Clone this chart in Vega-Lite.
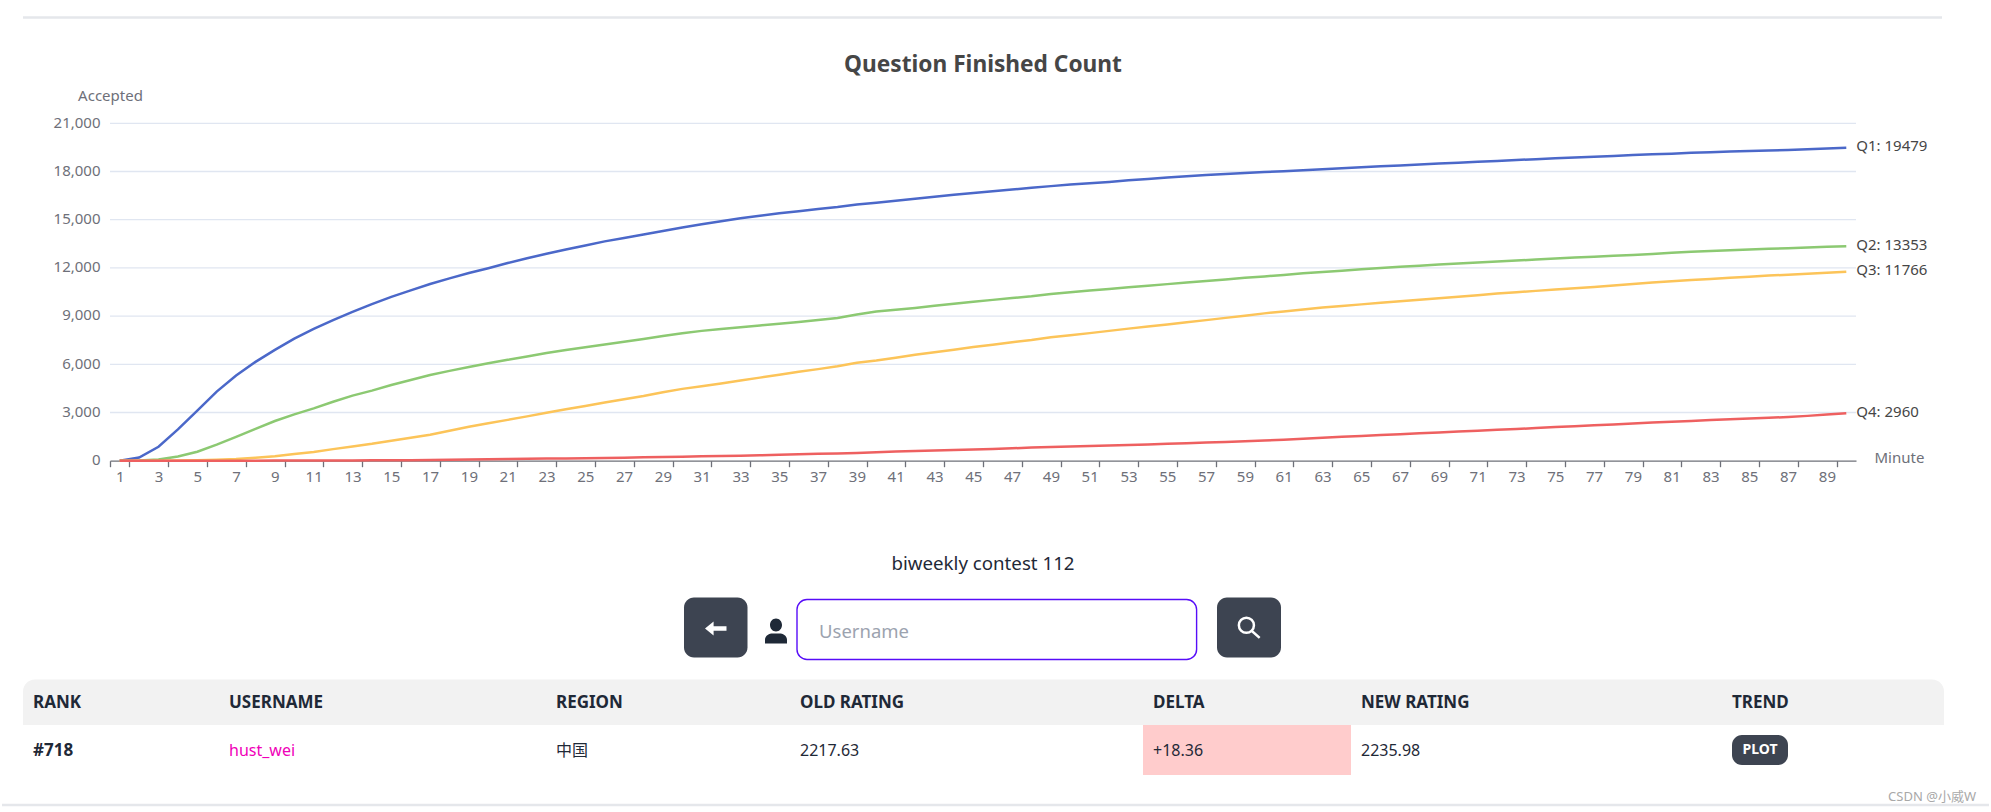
{
"$schema":"https://vega.github.io/schema/vega-lite/v6.json",
"width":1991,"height":812,"padding":0,
"autosize":{"type":"fit","contains":"padding"},
"background":"#ffffff",
"title":{"text":"Question Finished Count","anchor":"middle","frame":"group","offset":-77,"dx":-12.5,"fontSize":22.7,"fontWeight":"bold","font":"Noto Sans","color":"#464646"},
"config":{"font":"Noto Sans","view":{"stroke":null}},
"datasets":{
"series":[
{"minute":1,"question":"Q1","accepted":0},{"minute":2,"question":"Q1","accepted":200},{"minute":3,"question":"Q1","accepted":870},{"minute":4,"question":"Q1","accepted":1950},{"minute":5,"question":"Q1","accepted":3120},{"minute":6,"question":"Q1","accepted":4300},{"minute":7,"question":"Q1","accepted":5300},{"minute":8,"question":"Q1","accepted":6150},{"minute":9,"question":"Q1","accepted":6900},{"minute":10,"question":"Q1","accepted":7600},{"minute":11,"question":"Q1","accepted":8200},{"minute":12,"question":"Q1","accepted":8750},{"minute":13,"question":"Q1","accepted":9260},{"minute":14,"question":"Q1","accepted":9750},{"minute":15,"question":"Q1","accepted":10200},{"minute":16,"question":"Q1","accepted":10600},{"minute":17,"question":"Q1","accepted":11000},{"minute":18,"question":"Q1","accepted":11350},{"minute":19,"question":"Q1","accepted":11680},{"minute":20,"question":"Q1","accepted":11980},{"minute":21,"question":"Q1","accepted":12300},{"minute":22,"question":"Q1","accepted":12600},{"minute":23,"question":"Q1","accepted":12880},{"minute":24,"question":"Q1","accepted":13150},{"minute":25,"question":"Q1","accepted":13400},{"minute":26,"question":"Q1","accepted":13650},{"minute":27,"question":"Q1","accepted":13860},{"minute":28,"question":"Q1","accepted":14080},{"minute":29,"question":"Q1","accepted":14300},{"minute":30,"question":"Q1","accepted":14520},{"minute":31,"question":"Q1","accepted":14720},{"minute":32,"question":"Q1","accepted":14910},{"minute":33,"question":"Q1","accepted":15090},{"minute":34,"question":"Q1","accepted":15250},{"minute":35,"question":"Q1","accepted":15400},{"minute":36,"question":"Q1","accepted":15530},{"minute":37,"question":"Q1","accepted":15660},{"minute":38,"question":"Q1","accepted":15790},{"minute":39,"question":"Q1","accepted":15950},{"minute":40,"question":"Q1","accepted":16060},{"minute":41,"question":"Q1","accepted":16180},{"minute":42,"question":"Q1","accepted":16310},{"minute":43,"question":"Q1","accepted":16430},{"minute":44,"question":"Q1","accepted":16550},{"minute":45,"question":"Q1","accepted":16660},{"minute":46,"question":"Q1","accepted":16770},{"minute":47,"question":"Q1","accepted":16880},{"minute":48,"question":"Q1","accepted":16990},{"minute":49,"question":"Q1","accepted":17090},{"minute":50,"question":"Q1","accepted":17190},{"minute":51,"question":"Q1","accepted":17270},{"minute":52,"question":"Q1","accepted":17350},{"minute":53,"question":"Q1","accepted":17450},{"minute":54,"question":"Q1","accepted":17540},{"minute":55,"question":"Q1","accepted":17620},{"minute":56,"question":"Q1","accepted":17700},{"minute":57,"question":"Q1","accepted":17780},{"minute":58,"question":"Q1","accepted":17850},{"minute":59,"question":"Q1","accepted":17910},{"minute":60,"question":"Q1","accepted":17970},{"minute":61,"question":"Q1","accepted":18020},{"minute":62,"question":"Q1","accepted":18080},{"minute":63,"question":"Q1","accepted":18140},{"minute":64,"question":"Q1","accepted":18200},{"minute":65,"question":"Q1","accepted":18260},{"minute":66,"question":"Q1","accepted":18320},{"minute":67,"question":"Q1","accepted":18380},{"minute":68,"question":"Q1","accepted":18440},{"minute":69,"question":"Q1","accepted":18500},{"minute":70,"question":"Q1","accepted":18550},{"minute":71,"question":"Q1","accepted":18600},{"minute":72,"question":"Q1","accepted":18660},{"minute":73,"question":"Q1","accepted":18710},{"minute":74,"question":"Q1","accepted":18770},{"minute":75,"question":"Q1","accepted":18820},{"minute":76,"question":"Q1","accepted":18870},{"minute":77,"question":"Q1","accepted":18920},{"minute":78,"question":"Q1","accepted":18970},{"minute":79,"question":"Q1","accepted":19020},{"minute":80,"question":"Q1","accepted":19070},{"minute":81,"question":"Q1","accepted":19110},{"minute":82,"question":"Q1","accepted":19160},{"minute":83,"question":"Q1","accepted":19200},{"minute":84,"question":"Q1","accepted":19240},{"minute":85,"question":"Q1","accepted":19270},{"minute":86,"question":"Q1","accepted":19300},{"minute":87,"question":"Q1","accepted":19340},{"minute":88,"question":"Q1","accepted":19380},{"minute":89,"question":"Q1","accepted":19430},{"minute":90,"question":"Q1","accepted":19479},
{"minute":1,"question":"Q2","accepted":0},{"minute":2,"question":"Q2","accepted":15},{"minute":3,"question":"Q2","accepted":80},{"minute":4,"question":"Q2","accepted":260},{"minute":5,"question":"Q2","accepted":560},{"minute":6,"question":"Q2","accepted":1000},{"minute":7,"question":"Q2","accepted":1480},{"minute":8,"question":"Q2","accepted":1980},{"minute":9,"question":"Q2","accepted":2470},{"minute":10,"question":"Q2","accepted":2880},{"minute":11,"question":"Q2","accepted":3260},{"minute":12,"question":"Q2","accepted":3670},{"minute":13,"question":"Q2","accepted":4050},{"minute":14,"question":"Q2","accepted":4360},{"minute":15,"question":"Q2","accepted":4710},{"minute":16,"question":"Q2","accepted":5020},{"minute":17,"question":"Q2","accepted":5330},{"minute":18,"question":"Q2","accepted":5590},{"minute":19,"question":"Q2","accepted":5830},{"minute":20,"question":"Q2","accepted":6060},{"minute":21,"question":"Q2","accepted":6280},{"minute":22,"question":"Q2","accepted":6490},{"minute":23,"question":"Q2","accepted":6700},{"minute":24,"question":"Q2","accepted":6890},{"minute":25,"question":"Q2","accepted":7060},{"minute":26,"question":"Q2","accepted":7230},{"minute":27,"question":"Q2","accepted":7410},{"minute":28,"question":"Q2","accepted":7580},{"minute":29,"question":"Q2","accepted":7760},{"minute":30,"question":"Q2","accepted":7930},{"minute":31,"question":"Q2","accepted":8080},{"minute":32,"question":"Q2","accepted":8200},{"minute":33,"question":"Q2","accepted":8310},{"minute":34,"question":"Q2","accepted":8420},{"minute":35,"question":"Q2","accepted":8530},{"minute":36,"question":"Q2","accepted":8640},{"minute":37,"question":"Q2","accepted":8750},{"minute":38,"question":"Q2","accepted":8880},{"minute":39,"question":"Q2","accepted":9100},{"minute":40,"question":"Q2","accepted":9280},{"minute":41,"question":"Q2","accepted":9400},{"minute":42,"question":"Q2","accepted":9510},{"minute":43,"question":"Q2","accepted":9640},{"minute":44,"question":"Q2","accepted":9770},{"minute":45,"question":"Q2","accepted":9890},{"minute":46,"question":"Q2","accepted":10010},{"minute":47,"question":"Q2","accepted":10120},{"minute":48,"question":"Q2","accepted":10230},{"minute":49,"question":"Q2","accepted":10370},{"minute":50,"question":"Q2","accepted":10490},{"minute":51,"question":"Q2","accepted":10590},{"minute":52,"question":"Q2","accepted":10690},{"minute":53,"question":"Q2","accepted":10790},{"minute":54,"question":"Q2","accepted":10890},{"minute":55,"question":"Q2","accepted":10990},{"minute":56,"question":"Q2","accepted":11090},{"minute":57,"question":"Q2","accepted":11180},{"minute":58,"question":"Q2","accepted":11280},{"minute":59,"question":"Q2","accepted":11380},{"minute":60,"question":"Q2","accepted":11470},{"minute":61,"question":"Q2","accepted":11560},{"minute":62,"question":"Q2","accepted":11660},{"minute":63,"question":"Q2","accepted":11750},{"minute":64,"question":"Q2","accepted":11830},{"minute":65,"question":"Q2","accepted":11910},{"minute":66,"question":"Q2","accepted":11990},{"minute":67,"question":"Q2","accepted":12070},{"minute":68,"question":"Q2","accepted":12140},{"minute":69,"question":"Q2","accepted":12210},{"minute":70,"question":"Q2","accepted":12280},{"minute":71,"question":"Q2","accepted":12340},{"minute":72,"question":"Q2","accepted":12400},{"minute":73,"question":"Q2","accepted":12460},{"minute":74,"question":"Q2","accepted":12520},{"minute":75,"question":"Q2","accepted":12590},{"minute":76,"question":"Q2","accepted":12640},{"minute":77,"question":"Q2","accepted":12690},{"minute":78,"question":"Q2","accepted":12750},{"minute":79,"question":"Q2","accepted":12810},{"minute":80,"question":"Q2","accepted":12870},{"minute":81,"question":"Q2","accepted":12940},{"minute":82,"question":"Q2","accepted":13000},{"minute":83,"question":"Q2","accepted":13050},{"minute":84,"question":"Q2","accepted":13100},{"minute":85,"question":"Q2","accepted":13150},{"minute":86,"question":"Q2","accepted":13190},{"minute":87,"question":"Q2","accepted":13230},{"minute":88,"question":"Q2","accepted":13270},{"minute":89,"question":"Q2","accepted":13310},{"minute":90,"question":"Q2","accepted":13353},
{"minute":1,"question":"Q3","accepted":0},{"minute":2,"question":"Q3","accepted":0},{"minute":3,"question":"Q3","accepted":0},{"minute":4,"question":"Q3","accepted":5},{"minute":5,"question":"Q3","accepted":25},{"minute":6,"question":"Q3","accepted":60},{"minute":7,"question":"Q3","accepted":100},{"minute":8,"question":"Q3","accepted":180},{"minute":9,"question":"Q3","accepted":280},{"minute":10,"question":"Q3","accepted":420},{"minute":11,"question":"Q3","accepted":540},{"minute":12,"question":"Q3","accepted":720},{"minute":13,"question":"Q3","accepted":890},{"minute":14,"question":"Q3","accepted":1050},{"minute":15,"question":"Q3","accepted":1240},{"minute":16,"question":"Q3","accepted":1430},{"minute":17,"question":"Q3","accepted":1620},{"minute":18,"question":"Q3","accepted":1860},{"minute":19,"question":"Q3","accepted":2110},{"minute":20,"question":"Q3","accepted":2330},{"minute":21,"question":"Q3","accepted":2540},{"minute":22,"question":"Q3","accepted":2760},{"minute":23,"question":"Q3","accepted":2980},{"minute":24,"question":"Q3","accepted":3200},{"minute":25,"question":"Q3","accepted":3400},{"minute":26,"question":"Q3","accepted":3620},{"minute":27,"question":"Q3","accepted":3830},{"minute":28,"question":"Q3","accepted":4030},{"minute":29,"question":"Q3","accepted":4260},{"minute":30,"question":"Q3","accepted":4470},{"minute":31,"question":"Q3","accepted":4630},{"minute":32,"question":"Q3","accepted":4810},{"minute":33,"question":"Q3","accepted":4990},{"minute":34,"question":"Q3","accepted":5170},{"minute":35,"question":"Q3","accepted":5350},{"minute":36,"question":"Q3","accepted":5530},{"minute":37,"question":"Q3","accepted":5700},{"minute":38,"question":"Q3","accepted":5880},{"minute":39,"question":"Q3","accepted":6090},{"minute":40,"question":"Q3","accepted":6230},{"minute":41,"question":"Q3","accepted":6410},{"minute":42,"question":"Q3","accepted":6590},{"minute":43,"question":"Q3","accepted":6750},{"minute":44,"question":"Q3","accepted":6910},{"minute":45,"question":"Q3","accepted":7070},{"minute":46,"question":"Q3","accepted":7220},{"minute":47,"question":"Q3","accepted":7370},{"minute":48,"question":"Q3","accepted":7510},{"minute":49,"question":"Q3","accepted":7680},{"minute":50,"question":"Q3","accepted":7810},{"minute":51,"question":"Q3","accepted":7940},{"minute":52,"question":"Q3","accepted":8080},{"minute":53,"question":"Q3","accepted":8220},{"minute":54,"question":"Q3","accepted":8350},{"minute":55,"question":"Q3","accepted":8480},{"minute":56,"question":"Q3","accepted":8610},{"minute":57,"question":"Q3","accepted":8750},{"minute":58,"question":"Q3","accepted":8890},{"minute":59,"question":"Q3","accepted":9020},{"minute":60,"question":"Q3","accepted":9170},{"minute":61,"question":"Q3","accepted":9290},{"minute":62,"question":"Q3","accepted":9410},{"minute":63,"question":"Q3","accepted":9530},{"minute":64,"question":"Q3","accepted":9630},{"minute":65,"question":"Q3","accepted":9730},{"minute":66,"question":"Q3","accepted":9830},{"minute":67,"question":"Q3","accepted":9930},{"minute":68,"question":"Q3","accepted":10020},{"minute":69,"question":"Q3","accepted":10110},{"minute":70,"question":"Q3","accepted":10210},{"minute":71,"question":"Q3","accepted":10300},{"minute":72,"question":"Q3","accepted":10400},{"minute":73,"question":"Q3","accepted":10490},{"minute":74,"question":"Q3","accepted":10570},{"minute":75,"question":"Q3","accepted":10650},{"minute":76,"question":"Q3","accepted":10730},{"minute":77,"question":"Q3","accepted":10810},{"minute":78,"question":"Q3","accepted":10900},{"minute":79,"question":"Q3","accepted":11000},{"minute":80,"question":"Q3","accepted":11090},{"minute":81,"question":"Q3","accepted":11170},{"minute":82,"question":"Q3","accepted":11240},{"minute":83,"question":"Q3","accepted":11310},{"minute":84,"question":"Q3","accepted":11380},{"minute":85,"question":"Q3","accepted":11450},{"minute":86,"question":"Q3","accepted":11520},{"minute":87,"question":"Q3","accepted":11580},{"minute":88,"question":"Q3","accepted":11630},{"minute":89,"question":"Q3","accepted":11700},{"minute":90,"question":"Q3","accepted":11766},
{"minute":1,"question":"Q4","accepted":0},{"minute":2,"question":"Q4","accepted":0},{"minute":3,"question":"Q4","accepted":0},{"minute":4,"question":"Q4","accepted":0},{"minute":5,"question":"Q4","accepted":0},{"minute":6,"question":"Q4","accepted":1},{"minute":7,"question":"Q4","accepted":2},{"minute":8,"question":"Q4","accepted":4},{"minute":9,"question":"Q4","accepted":6},{"minute":10,"question":"Q4","accepted":8},{"minute":11,"question":"Q4","accepted":11},{"minute":12,"question":"Q4","accepted":15},{"minute":13,"question":"Q4","accepted":19},{"minute":14,"question":"Q4","accepted":24},{"minute":15,"question":"Q4","accepted":30},{"minute":16,"question":"Q4","accepted":35},{"minute":17,"question":"Q4","accepted":42},{"minute":18,"question":"Q4","accepted":58},{"minute":19,"question":"Q4","accepted":78},{"minute":20,"question":"Q4","accepted":88},{"minute":21,"question":"Q4","accepted":102},{"minute":22,"question":"Q4","accepted":116},{"minute":23,"question":"Q4","accepted":130},{"minute":24,"question":"Q4","accepted":140},{"minute":25,"question":"Q4","accepted":150},{"minute":26,"question":"Q4","accepted":165},{"minute":27,"question":"Q4","accepted":185},{"minute":28,"question":"Q4","accepted":210},{"minute":29,"question":"Q4","accepted":232},{"minute":30,"question":"Q4","accepted":250},{"minute":31,"question":"Q4","accepted":270},{"minute":32,"question":"Q4","accepted":290},{"minute":33,"question":"Q4","accepted":312},{"minute":34,"question":"Q4","accepted":340},{"minute":35,"question":"Q4","accepted":370},{"minute":36,"question":"Q4","accepted":400},{"minute":37,"question":"Q4","accepted":430},{"minute":38,"question":"Q4","accepted":455},{"minute":39,"question":"Q4","accepted":480},{"minute":40,"question":"Q4","accepted":530},{"minute":41,"question":"Q4","accepted":570},{"minute":42,"question":"Q4","accepted":600},{"minute":43,"question":"Q4","accepted":630},{"minute":44,"question":"Q4","accepted":665},{"minute":45,"question":"Q4","accepted":700},{"minute":46,"question":"Q4","accepted":735},{"minute":47,"question":"Q4","accepted":770},{"minute":48,"question":"Q4","accepted":815},{"minute":49,"question":"Q4","accepted":850},{"minute":50,"question":"Q4","accepted":880},{"minute":51,"question":"Q4","accepted":910},{"minute":52,"question":"Q4","accepted":945},{"minute":53,"question":"Q4","accepted":980},{"minute":54,"question":"Q4","accepted":1015},{"minute":55,"question":"Q4","accepted":1050},{"minute":56,"question":"Q4","accepted":1090},{"minute":57,"question":"Q4","accepted":1130},{"minute":58,"question":"Q4","accepted":1165},{"minute":59,"question":"Q4","accepted":1210},{"minute":60,"question":"Q4","accepted":1260},{"minute":61,"question":"Q4","accepted":1310},{"minute":62,"question":"Q4","accepted":1370},{"minute":63,"question":"Q4","accepted":1430},{"minute":64,"question":"Q4","accepted":1485},{"minute":65,"question":"Q4","accepted":1540},{"minute":66,"question":"Q4","accepted":1595},{"minute":67,"question":"Q4","accepted":1650},{"minute":68,"question":"Q4","accepted":1705},{"minute":69,"question":"Q4","accepted":1760},{"minute":70,"question":"Q4","accepted":1815},{"minute":71,"question":"Q4","accepted":1870},{"minute":72,"question":"Q4","accepted":1920},{"minute":73,"question":"Q4","accepted":1970},{"minute":74,"question":"Q4","accepted":2030},{"minute":75,"question":"Q4","accepted":2090},{"minute":76,"question":"Q4","accepted":2145},{"minute":77,"question":"Q4","accepted":2200},{"minute":78,"question":"Q4","accepted":2260},{"minute":79,"question":"Q4","accepted":2320},{"minute":80,"question":"Q4","accepted":2370},{"minute":81,"question":"Q4","accepted":2420},{"minute":82,"question":"Q4","accepted":2475},{"minute":83,"question":"Q4","accepted":2530},{"minute":84,"question":"Q4","accepted":2575},{"minute":85,"question":"Q4","accepted":2620},{"minute":86,"question":"Q4","accepted":2670},{"minute":87,"question":"Q4","accepted":2720},{"minute":88,"question":"Q4","accepted":2790},{"minute":89,"question":"Q4","accepted":2870},{"minute":90,"question":"Q4","accepted":2960}
],
"ends":[
{"minute":90,"question":"Q1","accepted":19479,"label":"Q1: 19479"},
{"minute":90,"question":"Q2","accepted":13353,"label":"Q2: 13353"},
{"minute":90,"question":"Q3","accepted":11766,"label":"Q3: 11766"},
{"minute":90,"question":"Q4","accepted":2960,"label":"Q4: 2960"}
],
"cells":[
{"col":0,"rowMid":0.5,"text":"RANK","kind":"bold"},
{"col":1,"rowMid":0.5,"text":"USERNAME","kind":"bold"},
{"col":2,"rowMid":0.5,"text":"REGION","kind":"bold"},
{"col":3,"rowMid":0.5,"text":"OLD RATING","kind":"bold"},
{"col":4,"rowMid":0.5,"text":"DELTA","kind":"bold"},
{"col":5,"rowMid":0.5,"text":"NEW RATING","kind":"bold"},
{"col":6,"rowMid":0.5,"text":"TREND","kind":"bold"},
{"col":0,"rowMid":1.5,"text":"#718","kind":"bold"},
{"col":1,"rowMid":1.5,"text":"hust_wei","kind":"link"},
{"col":2,"rowMid":1.5,"text":"中国","kind":"plain"},
{"col":3,"rowMid":1.5,"text":"2217.63","kind":"plain"},
{"col":4,"rowMid":1.5,"text":"+18.36","kind":"plain"},
{"col":5,"rowMid":1.5,"text":"2235.98","kind":"plain"}
]
},
"layer":[
{"data":{"values":[{"edge":0,"edgeEnd":3,"line":1},{"edge":1,"edgeEnd":2,"line":0}]},
 "mark":{"type":"rule","stroke":"#e5e7eb","strokeWidth":2.5},
 "encoding":{
  "x":{"field":"edge","type":"quantitative","scale":{"domain":[0,1,2,3],"range":[2,23,1942,1989]},"axis":null},
  "x2":{"field":"edgeEnd"},
  "y":{"field":"line","type":"quantitative","scale":{"domain":[0,1],"range":[17.5,805]},"axis":null}}},
{"data":{"values":[{"tick":3000,"from":0,"to":1},{"tick":6000,"from":0,"to":1},{"tick":9000,"from":0,"to":1},{"tick":12000,"from":0,"to":1},{"tick":15000,"from":0,"to":1},{"tick":18000,"from":0,"to":1},{"tick":21000,"from":0,"to":1}]},
 "mark":{"type":"rule","stroke":"#e0e6f1","strokeWidth":1.3},
 "encoding":{
  "x":{"field":"from","type":"quantitative","scale":{"domain":[0,1],"range":[110,1856]},"axis":null},
  "x2":{"field":"to"},
  "y":{"field":"tick","type":"quantitative","scale":{"domain":[0,21000],"range":[460.7,123.3]},"axis":null}}},
{"data":{"name":"series"},
 "mark":{"type":"line","strokeWidth":2.5,"interpolate":"linear"},
 "encoding":{
  "x":{"field":"minute","type":"ordinal","scale":{"type":"band","paddingInner":0,"paddingOuter":0,"range":[110,1856]},
   "axis":{"title":"Minute","titleX":1874,"titleY":-3,"titleAlign":"left","titleBaseline":"middle","titleFontSize":15,"titleFontWeight":"normal","titleColor":"#6e7079",
    "values":[1,3,5,7,9,11,13,15,17,19,21,23,25,27,29,31,33,35,37,39,41,43,45,47,49,51,53,55,57,59,61,63,65,67,69,71,73,75,77,79,81,83,85,87,89],
    "tickBand":"extent","labelAngle":0,"labelOverlap":false,"labelBound":false,"labelFlush":false,"labelFontSize":15,"labelColor":"#6e7079","labelPadding":3,"tickSize":6,"tickColor":"#6e7079","tickWidth":1.3,"domainColor":"#6e7079","domainWidth":1.3,"grid":false,"offset":-351.3}},
  "y":{"field":"accepted","type":"quantitative","scale":{"domain":[0,21000],"range":[460.7,123.3],"nice":false},
   "axis":{"title":"Accepted","titleAngle":0,"titleX":0,"titleY":95,"titleAlign":"center","titleBaseline":"middle","titleFontSize":15,"titleFontWeight":"normal","titleColor":"#6e7079",
    "values":[0,3000,6000,9000,12000,15000,18000,21000],"format":",d","domain":false,"ticks":false,"grid":false,"labelFontSize":15,"labelColor":"#6e7079","labelPadding":10,"labelOffset":-1.2,"offset":-110}},
  "color":{"field":"question","type":"nominal","scale":{"domain":["Q1","Q2","Q3","Q4"],"range":["#4b68c9","#8cc972","#fcc459","#ee6060"]},"legend":null}}},
{"data":{"name":"ends"},
 "mark":{"type":"text","align":"left","baseline":"middle","dx":10,"dy":-1.5,"fontSize":15,"fill":"#464646"},
 "encoding":{
  "x":{"field":"minute","type":"ordinal","scale":{"type":"band","domain":[1,90],"paddingInner":0,"paddingOuter":0,"range":[1817.2,1856]},"axis":null},
  "y":{"field":"accepted","type":"quantitative","scale":{"domain":[0,21000],"range":[460.7,123.3],"nice":false},"axis":null},
  "text":{"field":"label"}}},
{"data":{"values":[{"left":0,"right":7,"top":0,"bottom":1}]},
 "mark":{"type":"rect","fill":"#f2f2f2","cornerRadiusTopLeft":12,"cornerRadiusTopRight":12},
 "encoding":{
  "x":{"field":"left","type":"quantitative","scale":{"domain":[0,1,2,3,4,5,6,7],"range":[23,219,546,790,1143,1351,1722,1944]},"axis":null},
  "x2":{"field":"right"},
  "y":{"field":"top","type":"quantitative","scale":{"domain":[0,1,2],"range":[679.5,725,775]},"axis":null},
  "y2":{"field":"bottom"}}},
{"data":{"values":[{"left":4,"right":5,"top":1,"bottom":2}]},
 "mark":{"type":"rect","fill":"#ffcccc"},
 "encoding":{
  "x":{"field":"left","type":"quantitative","scale":{"domain":[0,1,2,3,4,5,6,7],"range":[23,219,546,790,1143,1351,1722,1944]},"axis":null},
  "x2":{"field":"right"},
  "y":{"field":"top","type":"quantitative","scale":{"domain":[0,1,2],"range":[679.5,725,775]},"axis":null},
  "y2":{"field":"bottom"}}},
{"data":{"name":"cells"},
 "transform":[{"filter":"datum.kind==='bold'"}],
 "mark":{"type":"text","align":"left","baseline":"middle","dx":10,"dy":1,"fontSize":17,"fontWeight":"bold","fill":"#1f2937"},
 "encoding":{
  "x":{"field":"col","type":"quantitative","scale":{"domain":[0,1,2,3,4,5,6,7],"range":[23,219,546,790,1143,1351,1722,1944]},"axis":null},
  "y":{"field":"rowMid","type":"quantitative","scale":{"domain":[0,1,2],"range":[679.5,725,775]},"axis":null},
  "text":{"field":"text"}}},
{"data":{"name":"cells"},
 "transform":[{"filter":"datum.kind==='plain'"}],
 "mark":{"type":"text","align":"left","baseline":"middle","dx":10,"dy":1,"fontSize":16,"font":"Noto Sans, Noto Sans CJK SC","fill":"#1f2937"},
 "encoding":{
  "x":{"field":"col","type":"quantitative","scale":{"domain":[0,1,2,3,4,5,6,7],"range":[23,219,546,790,1143,1351,1722,1944]},"axis":null},
  "y":{"field":"rowMid","type":"quantitative","scale":{"domain":[0,1,2],"range":[679.5,725,775]},"axis":null},
  "text":{"field":"text"}}},
{"data":{"name":"cells"},
 "transform":[{"filter":"datum.kind==='link'"}],
 "mark":{"type":"text","align":"left","baseline":"middle","dx":10,"dy":1,"fontSize":16,"fill":"#f000b8"},
 "encoding":{
  "x":{"field":"col","type":"quantitative","scale":{"domain":[0,1,2,3,4,5,6,7],"range":[23,219,546,790,1143,1351,1722,1944]},"axis":null},
  "y":{"field":"rowMid","type":"quantitative","scale":{"domain":[0,1,2],"range":[679.5,725,775]},"axis":null},
  "text":{"field":"text"}}},
{"data":{"values":[{"left":0,"right":1,"top":0,"bottom":1}]},
 "mark":{"type":"rect","fill":"#3d4451","cornerRadius":10},
 "encoding":{
  "x":{"field":"left","type":"quantitative","scale":{"domain":[0,1],"range":[1732,1788]},"axis":null},
  "x2":{"field":"right"},
  "y":{"field":"top","type":"quantitative","scale":{"domain":[0,1],"range":[735,765]},"axis":null},
  "y2":{"field":"bottom"}}},
{"data":{"values":[{"mid":0.5,"midY":0.5,"text":"PLOT"}]},
 "mark":{"type":"text","align":"center","baseline":"middle","fontSize":14,"fontWeight":"bold","fill":"#ffffff"},
 "encoding":{
  "x":{"field":"mid","type":"quantitative","scale":{"domain":[0,1],"range":[1732,1788]},"axis":null},
  "y":{"field":"midY","type":"quantitative","scale":{"domain":[0,1],"range":[735,765]},"axis":null},
  "text":{"field":"text"}}},
{"data":{"values":[{"left":0,"right":1,"top":1,"bottom":3},{"left":6,"right":7,"top":1,"bottom":3}]},
 "mark":{"type":"rect","fill":"#3d4451","cornerRadius":10},
 "encoding":{
  "x":{"field":"left","type":"quantitative","scale":{"domain":[0,1,2,3,4,5,6,7],"range":[684,747.5,776,797,983,1196.6,1217,1281]},"axis":null},
  "x2":{"field":"right"},
  "y":{"field":"top","type":"quantitative","scale":{"domain":[0,1,2,3,4],"range":[564,597.5,599.5,657.5,659.5]},"axis":null},
  "y2":{"field":"bottom"}}},
{"data":{"values":[{"left":3,"right":5,"top":2,"bottom":4}]},
 "mark":{"type":"rect","fill":"#ffffff","stroke":"#570df8","strokeWidth":1.4,"cornerRadius":10},
 "encoding":{
  "x":{"field":"left","type":"quantitative","scale":{"domain":[0,1,2,3,4,5,6,7],"range":[684,747.5,776,797,983,1196.6,1217,1281]},"axis":null},
  "x2":{"field":"right"},
  "y":{"field":"top","type":"quantitative","scale":{"domain":[0,1,2,3,4],"range":[564,597.5,599.5,657.5,659.5]},"axis":null},
  "y2":{"field":"bottom"}}},
{"data":{"values":[{"anchor":3,"level":2.5,"text":"Username"}]},
 "mark":{"type":"text","align":"left","baseline":"middle","dx":22,"dy":3,"fontSize":18.5,"fill":"#9ca3af"},
 "encoding":{
  "x":{"field":"anchor","type":"quantitative","scale":{"domain":[0,1,2,3,4,5,6,7],"range":[684,747.5,776,797,983,1196.6,1217,1281]},"axis":null},
  "y":{"field":"level","type":"quantitative","scale":{"domain":[0,1,2,3,4],"range":[564,597.5,599.5,657.5,659.5]},"axis":null},
  "text":{"field":"text"}}},
{"data":{"values":[{"anchor":4,"level":0,"text":"biweekly contest 112"}]},
 "mark":{"type":"text","align":"center","baseline":"middle","fontSize":18.7,"fill":"#1f2937"},
 "encoding":{
  "x":{"field":"anchor","type":"quantitative","scale":{"domain":[0,1,2,3,4,5,6,7],"range":[684,747.5,776,797,983,1196.6,1217,1281]},"axis":null},
  "y":{"field":"level","type":"quantitative","scale":{"domain":[0,1,2,3,4],"range":[564,597.5,599.5,657.5,659.5]},"axis":null},
  "text":{"field":"text"}}},
{"data":{"values":[{"anchor":0.5,"level":2.5}]},
 "mark":{"type":"point","filled":true,"fill":"#ffffff","opacity":1,"size":462,"strokeWidth":0,"shape":"M-1,0 L-0.2,-0.65 L-0.2,-0.2 L1,-0.2 L1,0.2 L-0.2,0.2 L-0.2,0.65 Z"},
 "encoding":{
  "x":{"field":"anchor","type":"quantitative","scale":{"domain":[0,1,2,3,4,5,6,7],"range":[684,747.5,776,797,983,1196.6,1217,1281]},"axis":null},
  "y":{"field":"level","type":"quantitative","scale":{"domain":[0,1,2,3,4],"range":[564,597.5,599.5,657.5,659.5]},"axis":null}}},
{"data":{"values":[{"anchor":2,"level":2.5}]},
 "mark":{"type":"point","filled":true,"fill":"#1f2937","opacity":1,"size":625,"strokeWidth":0,"shape":"M-0.48,-0.28 A0.48,0.52 0 1 1 0.48,-0.28 A0.48,0.52 0 1 1 -0.48,-0.28 Z M-0.88,1.2 L-0.88,0.9 C-0.88,0.55 -0.5,0.4 -0.3,0.4 L0.3,0.4 C0.5,0.4 0.88,0.55 0.88,0.9 L0.88,1.2 Z"},
 "encoding":{
  "x":{"field":"anchor","type":"quantitative","scale":{"domain":[0,1,2,3,4,5,6,7],"range":[684,747.5,776,797,983,1196.6,1217,1281]},"axis":null},
  "y":{"field":"level","type":"quantitative","scale":{"domain":[0,1,2,3,4],"range":[564,597.5,599.5,657.5,659.5]},"axis":null}}},
{"data":{"values":[{"anchor":6.5,"level":2.5}]},
 "mark":{"type":"point","filled":false,"stroke":"#ffffff","opacity":1,"size":676,"strokeWidth":2.5,"shape":"M-0.78,-0.25 A0.58,0.58 0 1 1 0.38,-0.25 A0.58,0.58 0 1 1 -0.78,-0.25 Z M0.2,0.17 L0.82,0.72"},
 "encoding":{
  "x":{"field":"anchor","type":"quantitative","scale":{"domain":[0,1,2,3,4,5,6,7],"range":[684,747.5,776,797,983,1196.6,1217,1281]},"axis":null},
  "y":{"field":"level","type":"quantitative","scale":{"domain":[0,1,2,3,4],"range":[564,597.5,599.5,657.5,659.5]},"axis":null}}},
{"data":{"values":[{"anchor":1,"level":1,"text":"CSDN @小威W"}]},
 "mark":{"type":"text","align":"right","baseline":"middle","fontSize":13,"font":"Noto Sans, Noto Sans CJK SC","fill":"#a8a8a8"},
 "encoding":{
  "x":{"field":"anchor","type":"quantitative","scale":{"domain":[0,1],"range":[0,1976]},"axis":null},
  "y":{"field":"level","type":"quantitative","scale":{"domain":[0,1],"range":[0,797]},"axis":null},
  "text":{"field":"text"}}}
],
"resolve":{"scale":{"x":"independent","y":"independent"},"axis":{"x":"independent","y":"independent"}}
}
